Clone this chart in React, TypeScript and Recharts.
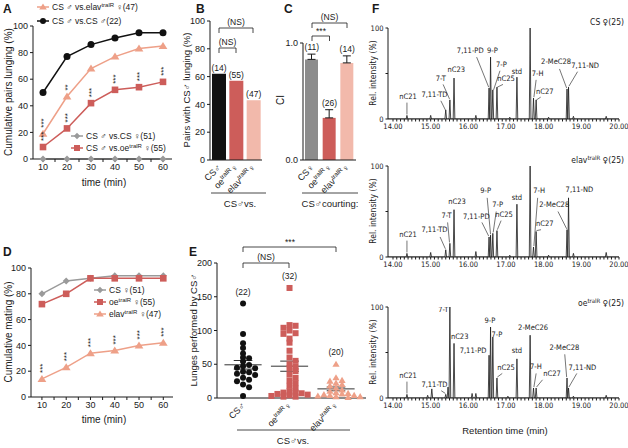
import React from "react";
import {
  LineChart, Line, XAxis, YAxis, BarChart, Bar, Cell, ErrorBar, LabelList,
  ScatterChart, Scatter, ComposedChart, ReferenceLine,
} from "recharts";

const FONT = "'Liberation Sans', Arial, sans-serif";
const NARROW = "'Liberation Sans Narrow', 'DejaVu Sans Condensed', 'Liberation Sans', sans-serif";
const INK = "#1a1a1a";
const BLACK = "#111111";
const GRAY = "#9a9a9a";
const RED = "#cd5d5a";
const SALMON = "#eea088";
const PINK = "#f2b9ab";
const BARGRAY = "#8c8c8c";

// A: cumulative pairs lunging (%)
const minutes = [10, 20, 30, 40, 50, 60];
const lungeCSm = [50, 77, 86, 91, 95, 95];
const lungeElav = [19, 47, 68, 77, 83, 85];
const lungeOe = [9, 23, 42, 52, 54, 58];
const lungeCSf = [0, 0, 0, 0, 0, 0];
const lungeStarsElav = ["***", "**", "", "", "", ""];
const lungeStarsOe = ["***", "***", "***", "***", "***", "***"];

// D: cumulative mating (%)
const mateCSf = [80, 90, 92, 94, 94, 94];
const mateOe = [72, 80, 92, 92, 92, 92];
const mateElav = [14, 23, 34, 36, 40, 42];
const mateStars = ["***", "***", "***", "***", "***", "***"];

// B: pairs with CS male lunging (%)
const pairValues = [62, 57, 43];
const pairN = ["(14)", "(55)", "(47)"];
const pairTicks = [{ b: "CS♂" }, { b: "oe", s: "tralR", e: "♀" }, { b: "elav", s: "tralR", e: "♀" }];

// C: courtship index
const ciValues = [0.86, 0.36, 0.83];
const ciErr = [0.045, 0.07, 0.06];
const ciN = ["(11)", "(26)", "(14)"];
const ciTicks = [{ b: "CS♀" }, { b: "oe", s: "tralR", e: "♀" }, { b: "elav", s: "tralR", e: "♀" }];

// E: lunges per pair
const lungesCS = [140, 95, 81, 74, 66, 60, 59, 54, 49, 47, 45, 44, 39, 38, 36, 34, 30, 27, 25, 20, 16, 3];
const lungesOe = [163, 108, 107, 104, 100, 96, 95, 88, 82, 70, 60, 55, 50, 46, 44, 40, 35, 30, 26, 22, 18, 14, 10, 8, 8, 7, 6, 5, 4, 3, 2, 2];
const lungesElav = [50, 30, 26, 25, 22, 20, 18, 15, 12, 10, 8, 7, 6, 5, 4, 4, 3, 2, 2, 1];
const lungesN = ["(22)", "(32)", "(20)"];

// F: chromatograms (retention time, relative intensity)
const rtMajor = [14, 15, 16, 17, 18, 19, 20];
const csT = [14.37, 15.0, 15.4, 15.51, 15.62, 16.2, 16.55, 16.59, 16.65, 16.76, 17.1, 17.29, 17.64, 17.73, 17.8, 18.13, 18.62, 18.66, 18.79, 19.66];
const csH = [4, 4, 10, 21, 45, 4, 34, 68, 32, 35, 2, 46, 100, 23, 21, 2, 33, 35, 3, 3];
const elavT = [14.37, 15.0, 15.4, 15.51, 15.62, 16.2, 16.55, 16.59, 16.65, 16.76, 17.1, 17.29, 17.64, 17.73, 17.8, 18.13, 18.62, 18.66, 18.79, 19.66];
const elavH = [4, 5, 8, 15, 52, 6, 22, 24, 26, 29, 2, 58, 100, 11, 28, 2, 30, 65, 4, 5];
const oeT = [14.37, 14.92, 15.03, 15.4, 15.46, 15.51, 15.62, 16.1, 16.2, 16.55, 16.59, 16.65, 16.76, 17.05, 17.29, 17.64, 17.73, 17.8, 18.62, 18.66, 18.79, 19.66];
const oeH = [4, 3, 10, 4, 12, 100, 60, 5, 5, 47, 78, 67, 22, 2, 43, 69, 11, 11, 22, 11, 2, 3];

const csLabels = [
  { text: "nC21", t: 14.4, h: 22, lead: [14.37, 18, 14.37, 5] },
  { text: "7,11-TD", t: 15.1, h: 24, lead: [15.27, 20, 15.39, 10] },
  { text: "7-T", t: 15.27, h: 42, lead: [15.33, 38, 15.5, 22] },
  { text: "nC23", t: 15.68, h: 52 },
  { text: "7,11-PD", t: 16.05, h: 72, lead: [16.22, 68, 16.54, 35] },
  { text: "9-P", t: 16.64, h: 73 },
  { text: "7-P", t: 16.88, h: 57, lead: [16.84, 53, 16.67, 32] },
  { text: "nC25", t: 17.0, h: 42, lead: [16.92, 38, 16.77, 35] },
  { text: "std", t: 17.29, h: 50 },
  { text: "7,11-HD", t: 17.68, h: 102, a: "start" },
  { text: "7-H", t: 17.84, h: 47, lead: [17.8, 43, 17.74, 24] },
  { text: "nC27", t: 18.03, h: 28, lead: [17.92, 24, 17.81, 21] },
  { text: "2-MeC28", t: 18.33, h: 60, lead: [18.42, 55, 18.61, 34] },
  { text: "7,11-ND", t: 19.1, h: 56, lead: [18.9, 52, 18.67, 36] },
];
const elavLabels = [
  { text: "nC21", t: 14.4, h: 22, lead: [14.37, 18, 14.37, 5] },
  { text: "7,11-TD", t: 15.1, h: 27, lead: [15.25, 22, 15.39, 9] },
  { text: "7-T", t: 15.42, h: 43, lead: [15.45, 38, 15.5, 16] },
  { text: "nC23", t: 15.7, h: 58 },
  { text: "7,11-PD", t: 16.21, h: 42, lead: [16.36, 38, 16.54, 23] },
  { text: "9-P", t: 16.46, h: 70, lead: [16.5, 65, 16.59, 25] },
  { text: "7-P", t: 16.78, h: 55, lead: [16.74, 50, 16.66, 27] },
  { text: "nC25", t: 16.95, h: 44, lead: [16.87, 40, 16.77, 30] },
  { text: "std", t: 17.29, h: 63 },
  { text: "7,11-HD", t: 17.68, h: 103, a: "start" },
  { text: "7-H", t: 17.88, h: 70, lead: [17.84, 65, 17.74, 12] },
  { text: "nC27", t: 18.03, h: 34, lead: [17.93, 30, 17.81, 29] },
  { text: "2-MeC28", t: 18.28, h: 55, lead: [18.38, 50, 18.61, 31] },
  { text: "7,11-ND", t: 18.95, h: 71 },
];
const oeLabels = [
  { text: "nC21", t: 14.4, h: 22, lead: [14.37, 18, 14.37, 5] },
  { text: "7,11-TD", t: 15.1, h: 12, lead: [15.28, 8, 15.39, 5] },
  { text: "7-T", t: 15.47, h: 95, a: "end" },
  { text: "nC23", t: 15.77, h: 65 },
  { text: "7,11-PD", t: 16.48, h: 50, a: "end" },
  { text: "9-P", t: 16.57, h: 82 },
  { text: "7-P", t: 16.76, h: 67 },
  { text: "nC25", t: 17.0, h: 31, lead: [16.9, 27, 16.77, 23] },
  { text: "std", t: 17.29, h: 50 },
  { text: "2-MeC26", t: 17.72, h: 75 },
  { text: "7-H", t: 17.95, h: 32, a: "end", lead: [17.8, 27, 17.74, 12] },
  { text: "nC27", t: 17.99, h: 24, a: "start", lead: [17.97, 20, 17.81, 12] },
  { text: "2-MeC28", t: 18.55, h: 53, lead: [18.56, 48, 18.61, 23] },
  { text: "7,11-ND", t: 19.03, h: 31, lead: [18.88, 27, 18.67, 12] },
];

// ---------- helpers ----------
const timeTicks = minutes.flatMap((m) => (m < 60 ? [m, m + 5] : [m]));
const tenFmt = (v: number) => (v % 10 === 0 ? String(v) : "");

const circleDot = (c: string, r: number) => (p: any) =>
  p.cx == null ? <g key={p.index} /> : <circle key={p.index} cx={p.cx} cy={p.cy} r={r} fill={c} />;
const squareDot = (c: string, s: number) => (p: any) =>
  p.cx == null ? <g key={p.index} /> : <rect key={p.index} x={p.cx - s} y={p.cy - s} width={2 * s} height={2 * s} fill={c} />;
const triDot = (c: string, s: number) => (p: any) =>
  p.cx == null ? <g key={p.index} /> : (
    <polygon key={p.index} points={`${p.cx},${p.cy - s} ${p.cx - s * 1.1},${p.cy + s * 0.75} ${p.cx + s * 1.1},${p.cy + s * 0.75}`} fill={c} />
  );
const diaDot = (c: string, s: number) => (p: any) =>
  p.cx == null ? <g key={p.index} /> : (
    <polygon key={p.index} points={`${p.cx},${p.cy - s} ${p.cx + s},${p.cy} ${p.cx},${p.cy + s} ${p.cx - s},${p.cy}`} fill={c} />
  );

const stars = (p: any) =>
  p.value ? (
    <text transform={`translate(${p.x + 3},${p.y - 6}) rotate(-90)`} fontSize={8} fill={INK} textAnchor="start">
      {p.value}
    </text>
  ) : null;

const Sup = ({ d, size }: any) => (
  <>
    {d.b}
    {d.s ? <tspan dy={-size * 0.4} fontSize={size * 0.7}>{d.s}</tspan> : null}
    {d.e ? <tspan dy={d.s ? size * 0.4 : 0} fontSize={size}>{d.e}</tspan> : null}
  </>
);

const rotTick = (defs: any[], byValue = false) => (p: any) => {
  const d = byValue ? defs[p.payload.value - 1] : defs[p.index];
  if (!d) return null;
  return (
    <g transform={`translate(${p.x + 3},${p.y})`}>
      <text transform="rotate(-45)" textAnchor="end" fontSize={9} fill={INK} fontFamily={FONT}>
        <Sup d={d} size={9} />
      </text>
    </g>
  );
};

function swarm(values: number[], center: number) {
  const placed: { x: number; y: number }[] = [];
  const dx = 0.13;
  const dv = 6;
  [...values].sort((a, b) => b - a).forEach((v) => {
    for (let k = 0; k < 60; k++) {
      const off = k === 0 ? 0 : (k % 2 ? 1 : -1) * Math.ceil(k / 2) * dx;
      const x = center + off;
      if (!placed.some((q) => Math.abs(q.y - v) < dv && Math.abs(q.x - x) < dx * 0.95)) {
        placed.push({ x, y: v });
        break;
      }
    }
  });
  return placed;
}
const stats = (v: number[]) => {
  const m = v.reduce((a, b) => a + b, 0) / v.length;
  const sd = Math.sqrt(v.reduce((a, b) => a + (b - m) * (b - m), 0) / (v.length - 1));
  return { m, sem: sd / Math.sqrt(v.length) };
};

const axisProps = { stroke: INK, tickSize: 3, tick: { fontSize: 9, fill: INK, fontFamily: FONT } };

// ---------- panels ----------
const lungeData = minutes.map((m, i) => ({
  m, cs: lungeCSm[i], elav: lungeElav[i], oe: lungeOe[i], csf: lungeCSf[i], sE: lungeStarsElav[i], sO: lungeStarsOe[i],
}));

function PanelA() {
  return (
    <LineChart width={176} height={185} data={lungeData} margin={{ top: 26, right: 4, bottom: 0, left: 0 }}>
      <XAxis dataKey="m" type="number" domain={[5.83, 63.75]} ticks={timeTicks} interval={0} tickFormatter={tenFmt} height={26} {...axisProps} />
      <YAxis type="number" domain={[0, 100]} ticks={[0, 20, 40, 60, 80, 100]} width={33} {...axisProps} />
      <Line dataKey="csf" stroke={GRAY} strokeWidth={1.5} dot={diaDot(GRAY, 3.5)} isAnimationActive={false} />
      <Line dataKey="oe" stroke={RED} strokeWidth={1.5} dot={squareDot(RED, 3.3)} isAnimationActive={false}>
        <LabelList dataKey="sO" content={stars} />
      </Line>
      <Line dataKey="elav" stroke={SALMON} strokeWidth={1.5} dot={triDot(SALMON, 4)} isAnimationActive={false}>
        <LabelList dataKey="sE" content={stars} />
      </Line>
      <Line dataKey="cs" stroke={BLACK} strokeWidth={1.5} dot={circleDot(BLACK, 3.5)} isAnimationActive={false} />
    </LineChart>
  );
}

const mateData = minutes.map((m, i) => ({ m, cs: mateCSf[i], oe: mateOe[i], elav: mateElav[i], s: mateStars[i] }));

function PanelD() {
  return (
    <LineChart width={180} height={175} data={mateData} margin={{ top: 18, right: 7, bottom: 0, left: 0 }}>
      <XAxis dataKey="m" type="number" domain={[5.5, 64]} ticks={timeTicks} interval={0} tickFormatter={tenFmt} height={28} {...axisProps} />
      <YAxis type="number" domain={[0, 100]} ticks={[0, 20, 40, 60, 80, 100]} width={31} {...axisProps} />
      <Line dataKey="cs" stroke={GRAY} strokeWidth={1.5} dot={diaDot(GRAY, 3.5)} isAnimationActive={false} />
      <Line dataKey="oe" stroke={RED} strokeWidth={1.5} dot={squareDot(RED, 3.3)} isAnimationActive={false} />
      <Line dataKey="elav" stroke={SALMON} strokeWidth={1.5} dot={triDot(SALMON, 4)} isAnimationActive={false}>
        <LabelList dataKey="s" content={stars} />
      </Line>
    </LineChart>
  );
}

const pairData = pairValues.map((v, i) => ({ k: i, v, n: pairN[i] }));
const pairColors = [BLACK, RED, PINK];

function PanelB() {
  return (
    <BarChart width={82} height={197} data={pairData} margin={{ top: 13, right: 0, bottom: 0, left: 0 }} barCategoryGap={2}>
      <XAxis dataKey="k" height={45} tickLine={false} stroke={INK} tick={rotTick(pairTicks)} interval={0} />
      <YAxis type="number" domain={[0, 100]} ticks={[0, 20, 40, 60, 80, 100]} width={30} {...axisProps} />
      <Bar dataKey="v" isAnimationActive={false} barSize={14}>
        {pairData.map((d, i) => <Cell key={i} fill={pairColors[i]} />)}
        <LabelList dataKey="n" position="top" offset={3} fontSize={8.5} fill={INK} fontFamily={FONT} />
      </Bar>
    </BarChart>
  );
}

const ciData = ciValues.map((v, i) => ({ k: i, v, err: [0, ciErr[i]], top: v + ciErr[i], n: ciN[i] }));
const ciColors = [BARGRAY, RED, PINK];

function PanelC() {
  return (
    <ComposedChart width={86} height={185} data={ciData} margin={{ top: 23, right: 0, bottom: 0, left: 0 }} barCategoryGap={2}>
      <XAxis dataKey="k" height={45} tickLine={false} stroke={INK} tick={rotTick(ciTicks)} interval={0} />
      <YAxis type="number" domain={[0, 1]} ticks={[0, 1]} tickFormatter={(v: number) => v.toFixed(1)} width={33} {...axisProps} />
      <Bar dataKey="v" isAnimationActive={false} barSize={13}>
        {ciData.map((d, i) => <Cell key={i} fill={ciColors[i]} />)}
        <ErrorBar dataKey="err" width={4} stroke={INK} strokeWidth={1} direction="y" />
      </Bar>
      <Scatter
        dataKey="top"
        isAnimationActive={false}
        shape={(p: any) => (
          <text x={p.cx} y={p.cy - 4} textAnchor="middle" fontSize={8.5} fill={INK} fontFamily={FONT}>{p.payload.n}</text>
        )}
      />
    </ComposedChart>
  );
}

const groups = [lungesCS, lungesOe, lungesElav];
const groupPts = groups.map((g, i) => swarm(g, i + 1));
const groupStats = groups.map(stats);
const groupTop = groups.map((g, i) => ({ x: i + 1, y: Math.max(...g), n: lungesN[i] }));
const eTicks = [{ b: "CS♂" }, { b: "oe", s: "tralR", e: "♀" }, { b: "elav", s: "tralR", e: "♀" }];

function PanelE() {
  return (
    <ScatterChart width={185} height={208} margin={{ top: 23, right: 4, bottom: 0, left: 0 }}>
      <XAxis dataKey="x" type="number" domain={[0.44, 3.645]} ticks={[1, 2, 3]} height={50} tickLine={false} stroke={INK} tick={rotTick(eTicks, true)} interval={0} />
      <YAxis dataKey="y" type="number" domain={[0, 200]} ticks={[0, 50, 100, 150, 200]} width={32} {...axisProps} />
      <Scatter data={groupPts[0]} isAnimationActive={false} shape={(p: any) => <circle cx={p.cx} cy={p.cy} r={3} fill={BLACK} />} />
      <Scatter data={groupPts[1]} isAnimationActive={false} shape={(p: any) => <rect x={p.cx - 3} y={p.cy - 3} width={6} height={6} fill={RED} />} />
      <Scatter data={groupPts[2]} isAnimationActive={false} shape={(p: any) => <polygon points={`${p.cx},${p.cy - 3.6} ${p.cx - 3.6},${p.cy + 2.6} ${p.cx + 3.6},${p.cy + 2.6}`} fill={SALMON} />} />
      {groupStats.map((s, i) => (
        <ReferenceLine key={"m" + i} segment={[{ x: i + 0.6, y: s.m }, { x: i + 1.4, y: s.m }]} stroke="#333" strokeWidth={1} />
      ))}
      {groupStats.map((s, i) => (
        <ReferenceLine key={"u" + i} segment={[{ x: i + 0.8, y: s.m + s.sem }, { x: i + 1.2, y: s.m + s.sem }]} stroke="#333" strokeWidth={1} />
      ))}
      {groupStats.map((s, i) => (
        <ReferenceLine key={"l" + i} segment={[{ x: i + 0.8, y: s.m - s.sem }, { x: i + 1.2, y: s.m - s.sem }]} stroke="#333" strokeWidth={1} />
      ))}
      <Scatter
        data={groupTop}
        isAnimationActive={false}
        shape={(p: any) => (
          <text x={p.cx} y={p.cy - 9} textAnchor="middle" fontSize={8.5} fill={INK} fontFamily={FONT}>{p.payload.n}</text>
        )}
      />
    </ScatterChart>
  );
}

const rtTicks = rtMajor.slice(0, -1).flatMap((m) => Array.from({ length: 10 }, (_, j) => Math.round((m + j / 10) * 10) / 10)).concat([20]);
const rtFmt = (v: number) => (Math.abs(v - Math.round(v)) < 1e-6 ? v.toFixed(2) : "");
const RT_DOMAIN = [13.867, 20.0];

const peaksToLine = (ts: number[], hs: number[]) => {
  const pts = [{ t: RT_DOMAIN[0], h: 0 }, { t: RT_DOMAIN[1], h: 0 }];
  ts.forEach((t, i) => pts.push({ t: t - 0.022, h: 0 }, { t, h: hs[i] }, { t: t + 0.022, h: 0 }));
  return pts.sort((a, b) => a.t - b.t);
};

function Chrom({ ts, hs, labels }: any) {
  const line = peaksToLine(ts, hs);
  return (
    <ComposedChart width={278} height={123} margin={{ top: 14, right: 9, bottom: 0, left: 0 }}>
      <XAxis dataKey="t" type="number" domain={RT_DOMAIN} ticks={rtTicks} interval={0} tickFormatter={rtFmt} height={18} stroke={INK} tickSize={2.5} tick={{ fontSize: 7.5, fill: INK, fontFamily: NARROW }} allowDataOverflow />
      <YAxis type="number" domain={[0, 100]} ticks={[0, 50, 100]} tickFormatter={(v: number) => (v === 50 ? "" : String(v))} width={38} stroke={INK} tickSize={2.5} tick={{ fontSize: 7.5, fill: INK, fontFamily: NARROW }} allowDataOverflow />
      <Line data={line} dataKey="h" stroke={INK} strokeWidth={0.8} dot={false} isAnimationActive={false} type="linear" />
      {labels.filter((l: any) => l.lead).map((l: any, i: number) => (
        <ReferenceLine key={i} segment={[{ x: l.lead[0], y: l.lead[1] }, { x: l.lead[2], y: l.lead[3] }]} stroke={INK} strokeWidth={0.6} ifOverflow="visible" />
      ))}
      <Scatter
        data={labels}
        dataKey="h"
        isAnimationActive={false}
        shape={(p: any) => (
          <text x={p.cx} y={p.cy} textAnchor={p.payload.a || "middle"} fontSize={7.5} fill={INK} fontFamily={NARROW}>{p.payload.text}</text>
        )}
      />
    </ComposedChart>
  );
}

// ---------- overlay text ----------
const T = ({ x, y, size = 9, anchor = "start", rot, bold, narrow, children }: any) => (
  <text
    x={rot ? 0 : x}
    y={rot ? 0 : y}
    transform={rot ? `translate(${x},${y}) rotate(${rot})` : undefined}
    fontSize={size}
    textAnchor={anchor}
    fontWeight={bold ? "bold" : "normal"}
    fontFamily={narrow ? NARROW : FONT}
    fill={INK}
  >
    {children}
  </text>
);

const LegendRow = ({ x, y, color, shape, children }: any) => {
  const m = shape === "c" ? <circle cx={x + 5} cy={y} r={3} fill={color} />
    : shape === "s" ? <rect x={x + 2} y={y - 3} width={6} height={6} fill={color} />
    : shape === "t" ? <polygon points={`${x + 5},${y - 3.5} ${x + 1.2},${y + 2.6} ${x + 8.8},${y + 2.6}`} fill={color} />
    : <polygon points={`${x + 5},${y - 3.2} ${x + 8.2},${y} ${x + 5},${y + 3.2} ${x + 1.8},${y}`} fill={color} />;
  return (
    <g>
      <line x1={x - 1} x2={x + 11} y1={y} y2={y} stroke={color} strokeWidth={1.5} />
      {m}
      <T x={x + 14} y={y + 3} size={8.5}>{children}</T>
    </g>
  );
};

const Bracket = ({ x1, x2, y, d = 5 }: any) => (
  <path d={`M${x1},${y + d} V${y} H${x2} V${y + d}`} fill="none" stroke={INK} strokeWidth={0.8} />
);

const sup = (s: string) => <tspan dy={-3} fontSize={6}>{s}</tspan>;
const down = (s: string) => <tspan dy={3}>{s}</tspan>;

function Overlay() {
  return (
    <svg width={628} height={448} style={{ position: "absolute", left: 0, top: 0, pointerEvents: "none" }}>
      <T x={3} y={13} size={12} bold>A</T>
      <T x={196} y={13} size={12} bold>B</T>
      <T x={284} y={13} size={12} bold>C</T>
      <T x={372} y={13} size={12} bold>F</T>
      <T x={3} y={256} size={12} bold>D</T>
      <T x={189} y={256} size={12} bold>E</T>

      {/* A */}
      <LegendRow x={38} y={7} color={SALMON} shape="t">CS ♂ vs.elav{sup("tralR")}{down(" ♀(47)")}</LegendRow>
      <LegendRow x={38} y={21} color={BLACK} shape="c">CS ♂ vs.CS ♂(22)</LegendRow>
      <LegendRow x={72} y={136} color={GRAY} shape="d">CS ♂ vs.CS ♀(51)</LegendRow>
      <LegendRow x={72} y={148} color={RED} shape="s">CS ♂ vs.oe{sup("tralR")}{down(" ♀(55)")}</LegendRow>
      <T x={12} y={92} size={10} anchor="middle" rot={-90}>Cumulative pairs lunging (%)</T>
      <T x={104} y={186} size={10} anchor="middle">time (min)</T>

      {/* B */}
      <T x={190} y={90} size={9.5} anchor="middle" rot={-90}>Pairs with CS♂ lunging (%)</T>
      <Bracket x1={219} x2={253} y={28} />
      <T x={236} y={25} size={8.5} anchor="middle">(NS)</T>
      <Bracket x1={219} x2={236} y={48} />
      <T x={227.5} y={45} size={8.5} anchor="middle">(NS)</T>
      <line x1={211} x2={266} y1={193} y2={193} stroke={INK} strokeWidth={0.8} />
      <T x={240} y={207} size={9.5} anchor="middle">CS♂vs.</T>

      {/* C */}
      <T x={284} y={100} size={10} anchor="middle" rot={-90}>CI</T>
      <Bracket x1={312} x2={347} y={23} />
      <T x={329.5} y={20} size={8.5} anchor="middle">(NS)</T>
      <Bracket x1={312} x2={329.5} y={36} />
      <T x={321} y={34} size={8.5} anchor="middle">***</T>
      <line x1={302} x2={358} y1={193} y2={193} stroke={INK} strokeWidth={0.8} />
      <T x={330} y={207} size={9.5} anchor="middle">CS♂courting:</T>

      {/* D */}
      <LegendRow x={95} y={290} color={GRAY} shape="d">CS ♀(51)</LegendRow>
      <LegendRow x={95} y={302} color={RED} shape="s">oe{sup("tralR")}{down(" ♀(55)")}</LegendRow>
      <LegendRow x={95} y={314} color={SALMON} shape="t">elav{sup("tralR")}{down(" ♀(47)")}</LegendRow>
      <T x={12} y={332} size={10} anchor="middle" rot={-90}>Cumulative mating (%)</T>
      <T x={104} y={423} size={10} anchor="middle">time (min)</T>

      {/* E */}
      <T x={197} y={330} size={9.5} anchor="middle" rot={-90}>Lunges performed by CS♂</T>
      <Bracket x1={243} x2={336} y={247} />
      <T x={290} y={245} size={8.5} anchor="middle">***</T>
      <Bracket x1={243} x2={289} y={263} />
      <T x={266} y={260} size={8.5} anchor="middle">(NS)</T>
      <line x1={237} x2={350} y1={430} y2={430} stroke={INK} strokeWidth={0.8} />
      <T x={293} y={444} size={9.5} anchor="middle">CS♂vs.</T>

      {/* F */}
      <T x={376} y={73} size={8.5} anchor="middle" rot={-90} narrow>Rel. intensity (%)</T>
      <T x={376} y={211} size={8.5} anchor="middle" rot={-90} narrow>Rel. intensity (%)</T>
      <T x={376} y={352} size={8.5} anchor="middle" rot={-90} narrow>Rel. intensity (%)</T>
      <T x={624} y={25} size={8.5} anchor="end" narrow>CS ♀(25)</T>
      <T x={624} y={163} size={8.5} anchor="end" narrow>elav{sup("tralR")}{down(" ♀(25)")}</T>
      <T x={624} y={306} size={8.5} anchor="end" narrow>oe{sup("tralR")}{down(" ♀(25)")}</T>
      <T x={505} y={434} size={9.5} anchor="middle">Retention time (min)</T>
    </svg>
  );
}

export default function App() {
  return (
    <div style={{ position: "absolute", left: 0, top: 0, width: 628, height: 448, background: "#fff", fontFamily: FONT, overflow: "hidden" }}>
      <div style={{ position: "absolute", left: 0, top: 0 }}><PanelA /></div>
      <div style={{ position: "absolute", left: 180, top: 8 }}><PanelB /></div>
      <div style={{ position: "absolute", left: 270, top: 20 }}><PanelC /></div>
      <div style={{ position: "absolute", left: 0, top: 250 }}><PanelD /></div>
      <div style={{ position: "absolute", left: 185, top: 240 }}><PanelE /></div>
      <div style={{ position: "absolute", left: 350, top: 14 }}><Chrom ts={csT} hs={csH} labels={csLabels} /></div>
      <div style={{ position: "absolute", left: 350, top: 152 }}><Chrom ts={elavT} hs={elavH} labels={elavLabels} /></div>
      <div style={{ position: "absolute", left: 350, top: 293 }}><Chrom ts={oeT} hs={oeH} labels={oeLabels} /></div>
      <Overlay />
    </div>
  );
}
